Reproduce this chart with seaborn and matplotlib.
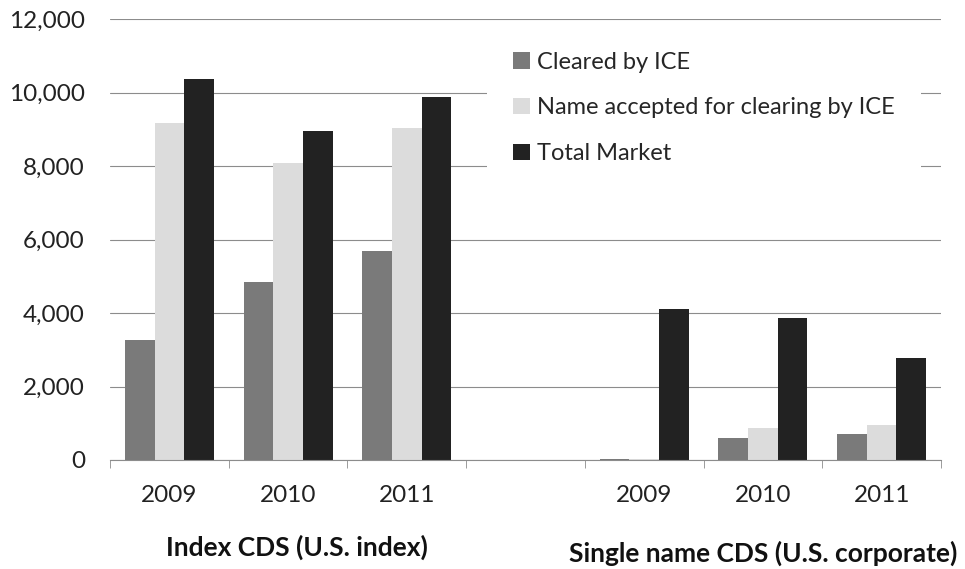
import matplotlib
matplotlib.use("Agg")
import matplotlib.pyplot as plt
import pandas as pd
import seaborn as sns
from matplotlib.ticker import FuncFormatter, MultipleLocator

# slots along the x axis: three index years, an empty spacer, three single-name years
SLOTS = ["idx2009", "idx2010", "idx2011", "gap", "sn2009", "sn2010", "sn2011"]
SLOT_LABELS = ["2009", "2010", "2011", "", "2009", "2010", "2011"]
DATA_SLOTS = ["idx2009", "idx2010", "idx2011", "sn2009", "sn2010", "sn2011"]

SERIES = ["Cleared by ICE", "Name accepted for clearing by ICE", "Total Market"]
CLEARED = [3270, 4830, 5690, 20, 600, 710]
ACCEPTED = [9180, 8070, 9040, 20, 870, 940]
TOTAL = [10360, 8950, 9890, 4110, 3870, 2780]

GROUP_LABELS = ["Index CDS (U.S. index)", "Single name CDS (U.S. corporate)"]
COLORS = ["#7a7a7a", "#dcdcdc", "#222222"]

rows = []
for name, vals in zip(SERIES, [CLEARED, ACCEPTED, TOTAL]):
    for slot, v in zip(DATA_SLOTS, vals):
        rows.append({"slot": slot, "series": name, "value": v})
df = pd.DataFrame(rows)

sns.set_style("white")
plt.rcParams["font.family"] = ["Lato", "DejaVu Sans"]

fig = plt.figure(figsize=(9.65, 5.69), dpi=100)
ax = fig.add_axes([110 / 965, (569 - 460) / 569, (941 - 110) / 965, (460 - 19) / 569])

sns.barplot(
    data=df, x="slot", y="value", hue="series", order=SLOTS, hue_order=SERIES,
    palette=COLORS, width=0.75, gap=0, saturation=1, edgecolor="none", ax=ax,
)

ax.set_ylim(0, 12000)
ax.set_xlim(-0.5, len(SLOTS) - 0.5)
ax.yaxis.set_major_locator(MultipleLocator(2000))
ax.yaxis.set_major_formatter(FuncFormatter(lambda v, _: f"{int(v):,}"))
ax.grid(axis="y", color="#8c8c8c", linewidth=0.8)
ax.set_axisbelow(True)
for s in ["left", "right", "top"]:
    ax.spines[s].set_visible(False)
ax.spines["bottom"].set_color("#8c8c8c")

ax.set_xticks(range(len(SLOTS)))
ax.set_xticklabels(SLOT_LABELS)
ax.set_xticks([i - 0.5 for i in range(len(SLOTS) + 1)], minor=True)
ax.tick_params(axis="x", which="major", length=0, pad=18, labelsize=17.5, colors="#222222")
ax.tick_params(axis="x", which="minor", length=6, direction="out", color="#8c8c8c", bottom=True)
ax.tick_params(axis="y", length=0, pad=18, labelsize=17.5, colors="#222222")
ax.set_xlabel("")
ax.set_ylabel("")

ax.text(1.075, -0.197, GROUP_LABELS[0], transform=ax.get_xaxis_transform(),
        ha="center", va="center", fontsize=19, fontweight="bold", color="#111111")
ax.text(5.0, -0.211, GROUP_LABELS[1], transform=ax.get_xaxis_transform(),
        ha="center", va="center", fontsize=19, fontweight="bold", color="#111111")

leg = ax.legend(title="", loc="upper left", bbox_to_anchor=(0.454, 0.985), frameon=True,
                fontsize=17, handlelength=0.7, handleheight=0.7, handletextpad=0.3,
                labelspacing=1.05, borderpad=1.1, borderaxespad=0, fancybox=False)
leg.get_frame().set_facecolor("white")
leg.get_frame().set_edgecolor("none")
leg.get_frame().set_alpha(1)

fig.savefig("out.png", dpi=100, facecolor="white")
